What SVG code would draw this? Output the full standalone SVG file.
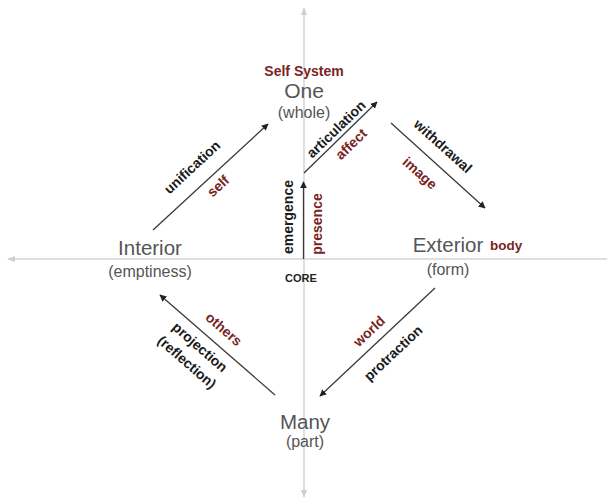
<svg xmlns="http://www.w3.org/2000/svg" width="610" height="502" viewBox="0 0 610 502">
<style>
.axis{stroke:#d4d4d4;stroke-width:1.5;fill:none}
.arr{stroke:#3a3a3a;stroke-width:1.3;fill:none;marker-end:url(#ah)}
.main{font-family:"Liberation Sans",Arial,sans-serif;font-size:20.5px;fill:#555;text-anchor:middle}
.sub{font-family:"Liberation Sans",Arial,sans-serif;font-size:16px;fill:#555;text-anchor:middle}
.lbl{font-family:"Liberation Sans",Arial,sans-serif;font-size:14px;font-weight:bold;fill:#1a1a1a;text-anchor:middle;dominant-baseline:central}
.red{font-family:"Liberation Sans",Arial,sans-serif;font-size:14px;font-weight:bold;fill:#7a2424;text-anchor:middle;dominant-baseline:central}
</style>
<defs>
<marker id="ah" viewBox="0 0 10 10" refX="9" refY="5" markerWidth="7" markerHeight="7" markerUnits="userSpaceOnUse" orient="auto"><path d="M0,0 L10,5 L0,10 z" fill="#222"/></marker>
<marker id="ax" viewBox="0 0 10 10" refX="9" refY="5" markerWidth="8" markerHeight="8" markerUnits="userSpaceOnUse" orient="auto"><path d="M0,1 L10,5 L0,9 z" fill="#cfcfcf"/></marker>
</defs>
<g id="axes">
<line class="axis" x1="304" y1="259" x2="304" y2="8" marker-end="url(#ax)"/>
<line class="axis" x1="304" y1="259" x2="304" y2="497" marker-end="url(#ax)"/>
<line class="axis" x1="304" y1="259" x2="8" y2="259" marker-end="url(#ax)"/>
<line class="axis" x1="304" y1="259" x2="607" y2="259"/>
</g>
<g id="connectors">
<line class="arr" x1="153" y1="230" x2="268" y2="124"/>
<line class="arr" x1="304" y1="173" x2="377" y2="102"/>
<line class="arr" x1="391" y1="123" x2="485" y2="208"/>
<line class="arr" x1="435" y1="288" x2="320" y2="396"/>
<line class="arr" x1="275" y1="395" x2="160" y2="295"/>
<line class="arr" x1="303.5" y1="259" x2="303.5" y2="182"/>
</g>
<g id="one">
<text x="304" y="76" style="font-family:'Liberation Sans',Arial,sans-serif;font-size:14px;font-weight:bold;fill:#7a2424;text-anchor:middle">Self System</text>
<text class="main" x="304" y="98" style="font-size:21px">One</text>
<text class="sub" x="304" y="118">(whole)</text>
</g>
<g id="interior">
<text class="main" x="150" y="255">Interior</text>
<text class="sub" x="150" y="277">(emptiness)</text>
</g>
<g id="exterior">
<text class="main" x="448" y="252">Exterior</text>
<text x="490" y="250" style="font-family:'Liberation Sans',Arial,sans-serif;font-size:13.5px;font-weight:bold;fill:#7a2424">body</text>
<text class="sub" x="448" y="275">(form)</text>
</g>
<g id="many">
<text class="main" x="305" y="429">Many</text>
<text class="sub" x="305" y="447">(part)</text>
</g>
<g id="core">
<text x="301" y="282" style="font-family:'Liberation Sans',Arial,sans-serif;font-size:11px;font-weight:bold;fill:#222;text-anchor:middle">CORE</text>
</g>
<g id="labels">
<text class="lbl" transform="translate(192,167) rotate(-42.7)">unification</text>
<text class="red" transform="translate(218,186) rotate(-42.7)">self</text>
<text class="lbl" transform="translate(336,129) rotate(-44)">articulation</text>
<text class="red" transform="translate(351,144) rotate(-44)">affect</text>
<text class="lbl" transform="translate(443,146) rotate(42)">withdrawal</text>
<text class="red" transform="translate(420,173) rotate(42)">image</text>
<text class="red" transform="translate(369,331) rotate(-43)">world</text>
<text class="lbl" transform="translate(393,353) rotate(-43)">protraction</text>
<text class="red" transform="translate(224,329) rotate(41)">others</text>
<text class="lbl" transform="translate(200,347) rotate(41)">projection</text>
<text class="lbl" transform="translate(187,362) rotate(41)">(reflection)</text>
<text class="lbl" transform="translate(288,217) rotate(-90)">emergence</text>
<text class="red" transform="translate(317,224) rotate(-90)">presence</text>
</g>
</svg>
